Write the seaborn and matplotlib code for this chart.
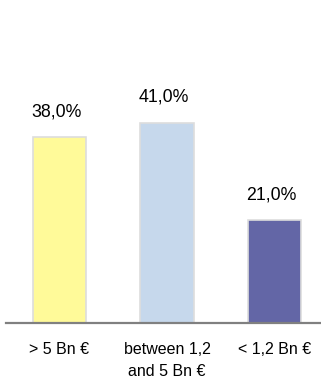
import matplotlib
matplotlib.use("Agg")
import matplotlib.pyplot as plt
import seaborn as sns
import pandas as pd

categories = ["> 5 Bn €", "between 1,2\nand 5 Bn €", "< 1,2 Bn €"]
values = [38.0, 41.0, 21.0]
value_labels = ["38,0%", "41,0%", "21,0%"]
colors = ["#FFFA99", "#C6D8EC", "#6366A6"]

sns.set_theme(style="white")
plt.rcParams["font.family"] = ["Liberation Sans", "DejaVu Sans"]

df = pd.DataFrame({"cat": categories, "val": values})

fig = plt.figure(figsize=(3.21, 3.84), dpi=100)
ax = fig.add_axes([5.75 / 321, 61 / 384, 322.5 / 321, 293.4 / 384])

sns.barplot(data=df, x="cat", y="val", hue="cat", palette=colors, legend=False,
            width=0.5, edgecolor="#DDDDDD", linewidth=1.2, saturation=1, ax=ax)

ax.set_xlim(-0.5, 2.5)
ax.set_ylim(0, 60)
ax.set_xlabel("")
ax.set_ylabel("")
ax.set_yticks([])
for s in ["left", "top", "right"]:
    ax.spines[s].set_visible(False)
ax.spines["bottom"].set_color("#808080")
ax.spines["bottom"].set_linewidth(1.6)
ax.tick_params(axis="x", length=0, pad=13.5, labelsize=11.5, colors="black")
ax.set_xticks(range(len(categories)))
ax.set_xticklabels(categories)
fig.canvas.draw()
for t in ax.get_xticklabels():
    t.set_linespacing(1.6)

for i, (v, lab) in enumerate(zip(values, value_labels)):
    ax.annotate(lab, xy=(i, v), xytext=(-2, 12), textcoords="offset points",
                ha="center", va="bottom", fontsize=12.8, color="black")

fig.savefig("out.png", dpi=100)
